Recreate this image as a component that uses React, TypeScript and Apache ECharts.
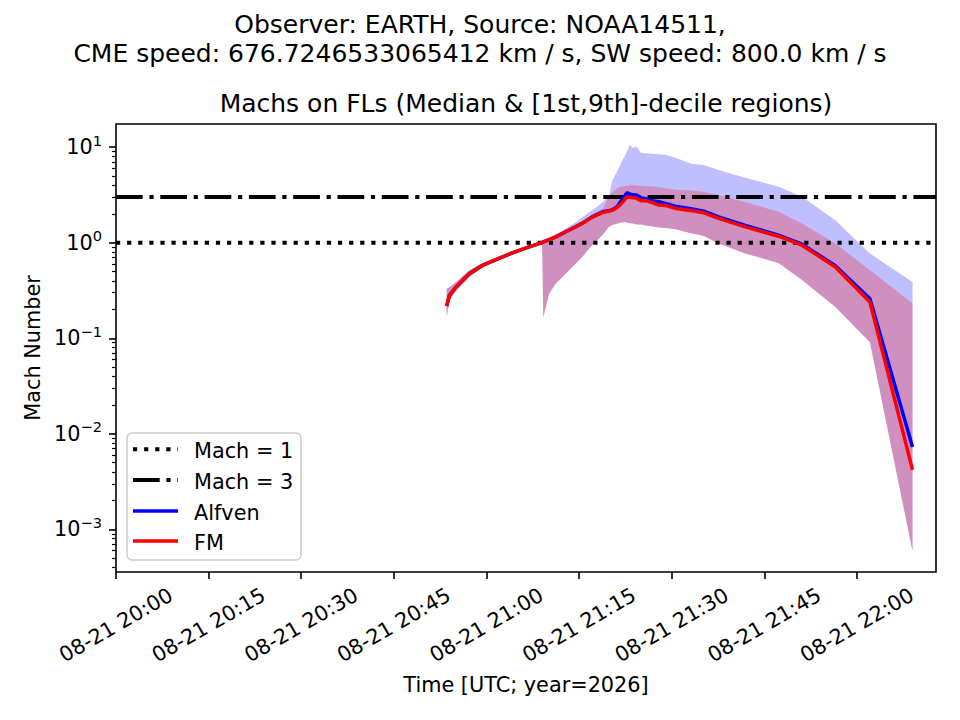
import React, { useEffect, useRef } from "react";
import * as echarts from "echarts";

// ---- data (times in minutes after 2026-08-21 20:00 UTC) ----
const minutesAfter2000 = [
  53.55, 54.0, 55.07, 57.2, 59.37, 61.53, 64.2, 66.9, 69.0, 69.2, 70.15, 71.2, 72.3, 73.9,
  75.5, 77.1, 78.8, 79.85, 80.4, 81.2, 81.7, 82.5, 82.8, 83.2, 83.7, 84.3, 85.0, 85.8, 86.85,
  87.9, 89.0, 90.6, 93.3, 95.2, 97.6, 101.9, 107.3, 111.1, 116.5, 122.1, 129.0,
];
const alfvenMedian = [
  0.217, 0.281, 0.344, 0.474, 0.581, 0.665, 0.782, 0.904, 1.002, 1.019, 1.079, 1.151, 1.25,
  1.409, 1.592, 1.862, 2.104, 2.163, 2.213, 2.399, 2.679, 3.162, 3.334, 3.236, 3.162, 3.155,
  2.951, 2.884, 2.754, 2.679, 2.57, 2.415, 2.249, 2.138, 1.862, 1.514, 1.202, 0.966, 0.575,
  0.259, 0.0073,
];
const alfvenP10 = [
  0.166, 0.249, 0.312, 0.438, 0.548, 0.64, 0.757, 0.875, 0.977, 0.166, 0.293, 0.373, 0.438,
  0.557, 0.71, 0.942, 1.202, 1.466, 1.531, 1.592, 1.622, 1.652, 1.622, 1.603, 1.585, 1.549,
  1.549, 1.514, 1.479, 1.445, 1.429, 1.38, 1.25, 1.175, 0.982, 0.771, 0.614, 0.407, 0.212,
  0.091, 0.00059,
];
const alfvenP90 = [
  0.33, 0.344, 0.388, 0.514, 0.614, 0.693, 0.805, 0.933, 1.028, 1.047, 1.114, 1.202, 1.352,
  1.552, 1.837, 2.188, 2.63, 3.162, 4.529, 5.623, 6.607, 8.318, 9.12, 10.57, 9.75, 10.14,
  8.71, 8.61, 8.511, 8.414, 8.318, 7.762, 6.668, 6.516, 5.768, 4.786, 3.855, 3.027, 1.722,
  0.771, 0.387,
];
const fmMedian = [
  0.217, 0.281, 0.344, 0.474, 0.581, 0.665, 0.782, 0.904, 1.002, 1.019, 1.079, 1.151, 1.25,
  1.409, 1.592, 1.841, 2.08, 2.138, 2.193, 2.344, 2.512, 2.884, 3.027, 2.985, 2.951, 2.911,
  2.748, 2.754, 2.63, 2.477, 2.455, 2.286, 2.158, 2.056, 1.795, 1.466, 1.169, 0.942, 0.557,
  0.24, 0.0042,
];
const fmP10 = [
  0.166, 0.249, 0.312, 0.438, 0.548, 0.64, 0.757, 0.875, 0.977, 0.166, 0.293, 0.373, 0.438,
  0.557, 0.71, 0.942, 1.202, 1.466, 1.531, 1.592, 1.622, 1.652, 1.622, 1.603, 1.585, 1.549,
  1.549, 1.514, 1.479, 1.445, 1.429, 1.38, 1.25, 1.175, 0.982, 0.771, 0.614, 0.407, 0.212,
  0.091, 0.00059,
];
const fmP90 = [
  0.327, 0.339, 0.385, 0.511, 0.61, 0.689, 0.802, 0.929, 1.026, 1.042, 1.109, 1.189, 1.303,
  1.479, 1.679, 1.95, 2.239, 3.027, 3.388, 3.707, 3.846, 3.917, 3.954, 3.981, 3.981, 3.963,
  3.936, 3.908, 3.89, 3.802, 3.715, 3.573, 3.508, 3.388, 3.155, 2.661, 2.104, 1.585, 0.982,
  0.514, 0.233,
];
const machLevels = [1, 3];
const legendLabels = ["Mach = 1", "Mach = 3", "Alfven", "FM"];
const xTickMinutes = [0, 15, 30, 45, 60, 75, 90, 105, 120];
const xTickLabels = [
  "08-21 20:00", "08-21 20:15", "08-21 20:30", "08-21 20:45", "08-21 21:00",
  "08-21 21:15", "08-21 21:30", "08-21 21:45", "08-21 22:00",
];
const yTickExponents = [-3, -2, -1, 0, 1];
const yMinorMultipliers = [2, 3, 4, 5, 6, 7, 8, 9];

const X_MIN = 0;
const X_MAX = 132.8;
const Y_MIN = -3.445; // log10 of axis bottom
const Y_MAX = 1.242; // log10 of axis top

const FONT = "DejaVu Sans";
const FS = 20.8;
const TFS = 25;
const lg = (v: number) => Math.log10(v);

const pts = (vals: number[]) => minutesAfter2000.map((t, i) => [t, lg(vals[i])]);

const minorTicks: number[] = [];
for (let n = -4; n <= 1; n++) {
  for (const k of yMinorMultipliers) {
    const v = n + lg(k);
    if (v > Y_MIN && v < Y_MAX) minorTicks.push(v);
  }
}

const DOT = [4.2, 6.9];
const DASHDOT = [26.7, 6.7, 4.2, 6.7];

export default function App() {
  const ref = useRef<HTMLDivElement>(null);
  useEffect(() => {
    document.body.style.margin = "0";
    if (!ref.current) return;
    const chart = echarts.init(ref.current, undefined, { renderer: "svg" });
    const txt = { fontFamily: FONT, color: "#000" };

    const band = (name: string, lo: number[], hi: number[], fill: string) => ({
      name: name + " [1st,9th]-decile",
      type: "custom",
      silent: true,
      data: minutesAfter2000.map((t, i) => [t, lg(lo[i]), lg(hi[i])]),
      encode: { x: 0, y: [1, 2] },
      renderItem: (params: any, api: any) => {
        if (params.dataIndex !== 0) return null;
        const upper = minutesAfter2000.map((t, i) => api.coord([t, lg(hi[i])]));
        const lower = minutesAfter2000.map((t, i) => api.coord([t, lg(lo[i])])).reverse();
        return {
          type: "polygon",
          shape: { points: upper.concat(lower) },
          style: { fill, stroke: "none" },
        };
      },
    });

    const legendRowsY = [449.3, 480, 511, 541];
    const legendStyles = [
      { stroke: "#000", lineWidth: 4, lineDash: DOT, lineCap: "butt" },
      { stroke: "#000", lineWidth: 4, lineDash: DASHDOT, lineCap: "butt" },
      { stroke: "#0000ff", lineWidth: 3.5, lineCap: "butt" },
      { stroke: "#ff0000", lineWidth: 3.5, lineCap: "butt" },
    ];
    const legendEls: any[] = [
      {
        type: "rect",
        shape: { x: 127, y: 433, width: 174, height: 127, r: 5 },
        style: { fill: "rgba(255,255,255,0.8)", stroke: "#cccccc", lineWidth: 1.5 },
        z: 100,
      },
    ];
    legendLabels.forEach((lab, i) => {
      legendEls.push({
        type: "line",
        shape: { x1: 133, y1: legendRowsY[i], x2: 178, y2: legendRowsY[i] },
        style: legendStyles[i],
        z: 101,
      });
      legendEls.push({
        type: "text",
        x: 194,
        y: legendRowsY[i] + 2,
        style: {
          text: lab,
          fontSize: FS,
          fontFamily: FONT,
          fill: "#000",
          align: "left",
          verticalAlign: "middle",
        },
        z: 101,
      });
    });

    const option: any = {
      animation: false,
      backgroundColor: "#fff",
      title: [
        {
          text:
            "Observer: EARTH, Source: NOAA14511,\nCME speed: 676.7246533065412 km / s, SW speed: 800.0 km / s",
          left: "center",
          top: 5,
          textStyle: { ...txt, fontSize: TFS, lineHeight: 29, fontWeight: "normal" },
        },
        {
          text: "Machs on FLs (Median & [1st,9th]-decile regions)",
          left: 521,
          top: 84,
          textAlign: "center",
          textStyle: { ...txt, fontSize: TFS, lineHeight: 29, fontWeight: "normal" },
        },
      ],
      grid: {
        left: 116,
        right: 24,
        top: 124,
        bottom: 148,
        show: true,
        borderColor: "#000",
        borderWidth: 1.6,
        containLabel: false,
      },
      xAxis: {
        type: "value",
        min: X_MIN,
        max: X_MAX,
        axisLine: { show: false, onZero: false },
        splitLine: { show: false },
        axisTick: {
          show: true,
          length: 7,
          customValues: xTickMinutes,
          lineStyle: { color: "#000", width: 1.6 },
        },
        axisLabel: {
          ...txt,
          customValues: xTickMinutes,
          fontSize: FS,
          rotate: 30,
          align: "center",
          verticalAlign: "middle",
          margin: 53,
          formatter: (v: number) => {
            const i = xTickMinutes.indexOf(Math.round(v));
            return i >= 0 ? xTickLabels[i] : "";
          },
        },
        name: "Time [UTC; year=2026]",
        nameLocation: "middle",
        nameGap: 102,
        nameTextStyle: { ...txt, fontSize: FS },
      },
      yAxis: [
        {
          type: "value",
          min: Y_MIN,
          max: Y_MAX,
          axisLine: { show: false, onZero: false },
          splitLine: { show: false },
          axisTick: {
            show: true,
            length: 7,
            customValues: yTickExponents,
            lineStyle: { color: "#000", width: 1.6 },
          },
          axisLabel: {
            ...txt,
            customValues: yTickExponents,
            margin: 14,
            formatter: (v: number) => {
              const e = Math.round(v);
              return `{b|10}{s|${e < 0 ? "\u2212" + -e : e}}`;
            },
            rich: {
              b: { ...txt, fontSize: FS },
              s: { ...txt, fontSize: 14.6, padding: [0, 0, 14, 0] },
            },
          },
          name: "Mach Number",
          nameLocation: "middle",
          nameGap: 73,
          nameTextStyle: { ...txt, fontSize: FS },
        },
        {
          type: "value",
          min: Y_MIN,
          max: Y_MAX,
          position: "left",
          axisLine: { show: false, onZero: false },
          splitLine: { show: false },
          axisLabel: { show: false },
          axisTick: {
            show: true,
            length: 4,
            customValues: minorTicks,
            lineStyle: { color: "#000", width: 1.2 },
          },
        },
      ],
      series: [
        {
          name: legendLabels[0],
          type: "line",
          data: [
            [X_MIN, lg(machLevels[0])],
            [X_MAX, lg(machLevels[0])],
          ],
          symbol: "none",
          silent: true,
          lineStyle: { color: "#000", width: 4, type: DOT, cap: "butt" },
        },
        {
          name: legendLabels[1],
          type: "line",
          data: [
            [X_MIN, lg(machLevels[1])],
            [X_MAX, lg(machLevels[1])],
          ],
          symbol: "none",
          silent: true,
          lineStyle: { color: "#000", width: 4, type: DASHDOT, cap: "butt" },
        },
        band("Alfven", alfvenP10, alfvenP90, "rgba(0,0,255,0.25)"),
        band("FM", fmP10, fmP90, "rgba(255,0,0,0.25)"),
        {
          name: legendLabels[2],
          type: "line",
          data: pts(alfvenMedian),
          symbol: "none",
          silent: true,
          lineStyle: { color: "#0000ff", width: 3.5 },
        },
        {
          name: legendLabels[3],
          type: "line",
          data: pts(fmMedian),
          symbol: "none",
          silent: true,
          lineStyle: { color: "#ff0000", width: 3.5 },
        },
      ],
      graphic: { elements: legendEls },
    };
    chart.setOption(option);
    return () => chart.dispose();
  }, []);
  return <div ref={ref} style={{ width: 960, height: 720 }} />;
}
